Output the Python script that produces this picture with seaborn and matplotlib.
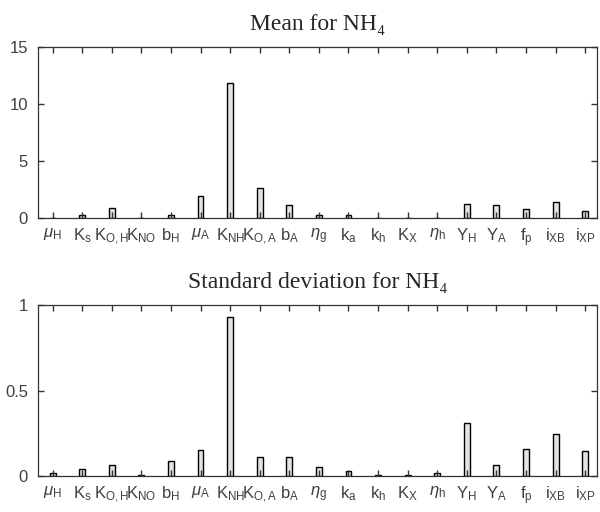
import pandas as pd
import numpy as np
import matplotlib
matplotlib.use('Agg')
import matplotlib.pyplot as plt
import seaborn as sns

# ==========================================
# DATOS
# ==========================================
parametros = [r'$\mu_\mathrm{H}$', r'$\mathrm{K_s}$', r'$\mathrm{K_{O,H}}$', r'$\mathrm{K_{NO}}$',
              r'$\mathrm{b_H}$', r'$\mu_\mathrm{A}$', r'$\mathrm{K_{NH}}$', r'$\mathrm{K_{O,A}}$',
              r'$\mathrm{b_A}$', r'$\eta_\mathrm{g}$', r'$\mathrm{k_a}$', r'$\mathrm{k_h}$',
              r'$\mathrm{K_X}$', r'$\eta_\mathrm{h}$', r'$\mathrm{Y_H}$', r'$\mathrm{Y_A}$',
              r'$\mathrm{f_p}$', r'$\mathrm{i_{XB}}$', r'$\mathrm{i_{XP}}$']

media_nh4 = [0.05, 0.23, 0.9, 0.0, 0.23, 1.9, 11.79, 2.6, 1.14, 0.23,
             0.23, 0.0, 0.0, 0.0, 1.23, 1.14, 0.79, 1.37, 0.58]

std_nh4 = [0.02, 0.04, 0.068, 0.005, 0.086, 0.152, 0.932, 0.113, 0.113, 0.055,
           0.031, 0.004, 0.004, 0.02, 0.312, 0.068, 0.158, 0.244, 0.146]

titulos = ['Mean for NH\u2084', 'Standard deviation for NH\u2084']
yticks_list = [[0, 5, 10, 15], [0, 0.5, 1]]
yticklabels_list = [['0', '5', '10', '15'], ['0', '0.5', '1']]
ylims = [(0, 15), (0, 1)]

# ==========================================
# ESTILO
# ==========================================
sns.set_style('ticks')
plt.rcParams['font.family'] = ['Liberation Sans', 'DejaVu Sans']
plt.rcParams['mathtext.fontset'] = 'custom'
plt.rcParams['mathtext.rm'] = 'Liberation Sans'
plt.rcParams['mathtext.it'] = 'Liberation Sans:italic'
plt.rcParams['mathtext.sf'] = 'Liberation Sans'
plt.rcParams['axes.axisbelow'] = False  # las marcas por encima de las barras

fig = plt.figure(figsize=(6, 5.12), dpi=100)
ax1 = fig.add_axes([0.063, 0.574, 0.932, 0.335])
ax2 = fig.add_axes([0.063, 0.070, 0.932, 0.334])

color_eje = '#333333'

for ax, valores, titulo, yt, ytl, yl in zip([ax1, ax2], [media_nh4, std_nh4], titulos,
                                           yticks_list, yticklabels_list, ylims):
    df = pd.DataFrame({'param': parametros, 'valor': valores})
    sns.barplot(data=df, x='param', y='valor', ax=ax, color='#e3e3e3',
                edgecolor='black', linewidth=1.0, width=0.2, saturation=1)
    ax.set_axisbelow(False)
    ax.set_xlim(-0.5, 18.4)
    ax.set_ylim(*yl)
    ax.set_yticks(yt)
    ax.set_yticklabels(ytl)
    ax.set_xlabel('')
    ax.set_ylabel('')
    ax.set_title(titulo, family=['Liberation Serif', 'DejaVu Serif'], fontsize=17, pad=12)
    ax.tick_params(axis='both', which='major', direction='in', top=True, right=True,
                   bottom=True, left=True, length=4, width=1.0,
                   color=color_eje, labelcolor='#404040', labelsize=12, pad=7)
    ax.tick_params(axis='x', labelsize=12, pad=6)
    for lado in ax.spines.values():
        lado.set_visible(True)
        lado.set_color(color_eje)
        lado.set_linewidth(0.9)

fig.savefig('out.png', dpi=100)
